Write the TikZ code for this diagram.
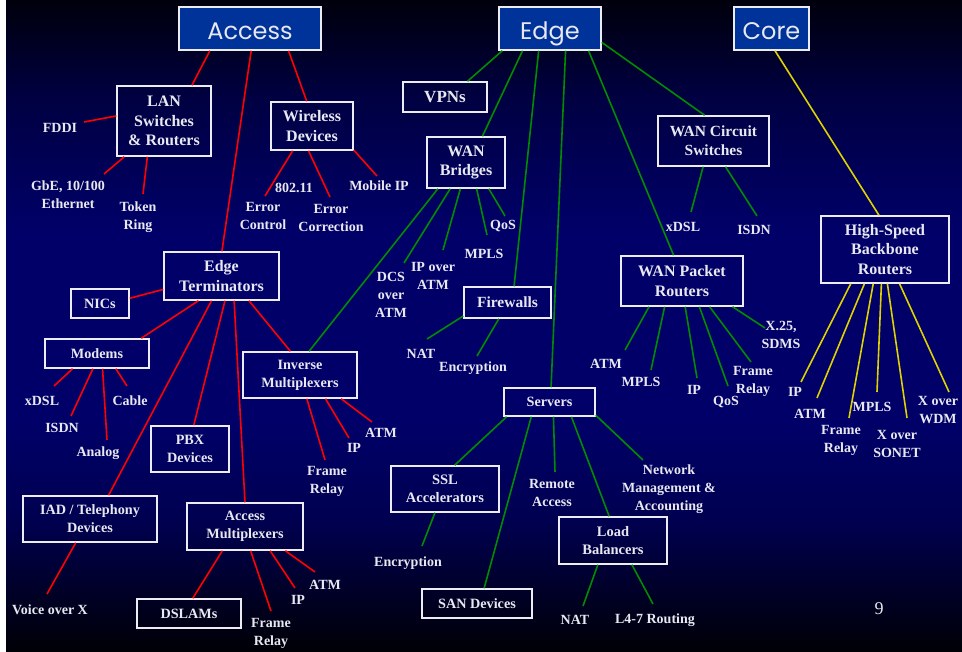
\documentclass[tikz,border=0pt]{standalone}
\usepackage{fontspec}
\setmainfont{Liberation Serif}
\newfontfamily\titlefont{Poppins}
\usetikzlibrary{calc}

\definecolor{titlefill}{RGB}{0,51,153}
\definecolor{txt}{RGB}{232,232,240}
\definecolor{boxline}{RGB}{236,236,242}
\definecolor{lred}{RGB}{255,0,0}
\definecolor{lgreen}{RGB}{0,140,0}
\definecolor{lyellow}{RGB}{222,210,0}
\definecolor{bgA}{RGB}{0,0,6}
\definecolor{bgB}{RGB}{0,0,35}
\definecolor{bgC}{RGB}{0,0,80}
\definecolor{bgD}{RGB}{0,0,104}
\definecolor{bgE}{RGB}{0,0,66}
\definecolor{bgF}{RGB}{0,0,12}
\pgfdeclareverticalshading{slidebg}{100bp}{color(0bp)=(bgA); color(25bp)=(bgA); color(29bp)=(bgB); color(35bp)=(bgC); color(42.5bp)=(bgD); color(57.5bp)=(bgD); color(67.5bp)=(bgE); color(75bp)=(bgF); color(100bp)=(bgF)}

\tikzset{
  titlebox/.style={draw=boxline, line width=1.5pt, fill=titlefill, text=txt, inner sep=0pt,
    text height=22pt, text depth=0pt,
    font=\titlefont\fontsize{24}{28}\selectfont},
  catbox/.style={draw=boxline, line width=1.5pt, text=txt, align=center, inner sep=0pt,
    font=\bfseries\fontsize{16}{19.5}\selectfont},
  midbox/.style={catbox, font=\bfseries\fontsize{15.5}{19}\selectfont},
  smallbox/.style={catbox, font=\bfseries\fontsize{14.2}{18}\selectfont},
  leaf/.style={text=txt, align=center, inner sep=1pt,
    font=\bfseries\fontsize{14}{18}\selectfont},
  pagenum/.style={text=txt, inner sep=0pt, font=\fontsize{18}{20}\selectfont},
  acc/.style={draw=lred, line width=1.6pt},
  edg/.style={draw=lgreen, line width=1.6pt},
  cor/.style={draw=lyellow, line width=1.6pt},
}

\begin{document}
\begin{tikzpicture}[x=1pt,y=-1pt]
\useasboundingbox (0,0) rectangle (962,652);
\fill[white] (0,0) rectangle (962,652);
\shade[shading=slidebg] (6,0) rectangle (962,652);

% ---------- title boxes ----------
\node[titlebox, minimum width=142pt, minimum height=43pt] (access) at (250,28.5) {Access};
\node[titlebox, minimum width=102pt, minimum height=43pt] (edge) at (550,28.5) {Edge};
\node[titlebox, minimum width=75pt, minimum height=43pt] (core) at (771.5,28.5) {Core};

% ---------- category boxes ----------
\node[catbox, minimum width=94pt, minimum height=70pt] (lan) at (164,121) {LAN\\Switches\\\& Routers};
\node[catbox, minimum width=82pt, minimum height=48pt] (wireless) at (312,126) {Wireless\\Devices};
\node[catbox, font=\bfseries\fontsize{17}{20}\selectfont, minimum width=84pt, minimum height=30pt] (vpns) at (445,97) {VPNs};
\node[catbox, minimum width=78pt, minimum height=51pt] (wbr) at (466,162.5) {WAN\\Bridges};
\node[midbox, minimum width=111pt, minimum height=50pt] (wcs) at (713.5,141) {WAN Circuit\\Switches};
\node[midbox, minimum width=87pt, minimum height=31pt] (fw) at (507.5,302.5) {Firewalls};
\node[smallbox, minimum width=91pt, minimum height=28pt] (srv) at (549.5,402) {Servers};
\node[catbox, minimum width=122pt, minimum height=50pt] (wpr) at (682,281) {WAN Packet\\Routers};
\node[catbox, minimum width=128pt, minimum height=67pt] (hsbr) at (885,249.5) {High-Speed\\Backbone\\Routers};
\node[catbox, minimum width=115pt, minimum height=48pt] (et) at (221.5,276) {Edge\\Terminators};
\node[smallbox, minimum width=58pt, minimum height=29pt] (nics) at (100,303.5) {NICs};
\node[smallbox, minimum width=104pt, minimum height=29pt] (modems) at (97,353.5) {Modems};
\node[smallbox, minimum width=114pt, minimum height=46pt] (imux) at (300,375) {Inverse\\Multiplexers};
\node[smallbox, minimum width=78pt, minimum height=46pt] (pbx) at (190,449) {PBX\\Devices};
\node[smallbox, minimum width=134pt, minimum height=46pt] (iad) at (90,519) {IAD / Telephony\\Devices};
\node[smallbox, minimum width=116pt, minimum height=47pt] (amux) at (245,526.5) {Access\\Multiplexers};
\node[smallbox, minimum width=104pt, minimum height=29pt] (dslams) at (189,613.5) {DSLAMs};
\node[smallbox, font=\bfseries\fontsize{14.5}{18}\selectfont, minimum width=108pt, minimum height=46pt] (ssl) at (445,489) {SSL\\Accelerators};
\node[smallbox, minimum width=110pt, minimum height=29pt] (san) at (477,603.5) {SAN Devices};
\node[smallbox, font=\bfseries\fontsize{14.5}{18}\selectfont, minimum width=108pt, minimum height=47pt] (lb) at (613,540.5) {Load\\Balancers};

% ---------- leaf labels ----------
% Access
\node[leaf] (fddi) at (60,128) {FDDI};
\node[leaf] (gbe) at (68,195) {GbE, 10/100\\Ethernet};
\node[leaf] (token) at (138,217) {Token\\Ring};
\node[leaf] (w80211) at (294,188) {802.11};
\node[leaf] (errctl) at (263,216) {Error\\Control};
\node[leaf] (errcor) at (331,218) {Error\\Correction};
\node[leaf] (mobip) at (379,186) {Mobile IP};
\node[leaf] (mxdsl) at (42,401) {xDSL};
\node[leaf] (misdn) at (62,428) {ISDN};
\node[leaf] (manalog) at (98,453) {Analog};
\node[leaf] (mcable) at (130,401) {Cable};
\node[leaf] (ifr) at (327,481) {Frame\\Relay};
\node[leaf] (iip) at (354,448) {IP};
\node[leaf] (iatm) at (381,433) {ATM};
\node[leaf] (voice) at (50,610) {Voice over X};
\node[leaf] (afr) at (271,633) {Frame\\Relay};
\node[leaf] (aip) at (298,600) {IP};
\node[leaf] (aatm) at (325,585) {ATM};
% Edge
\node[leaf] (wxdsl) at (683,227) {xDSL};
\node[leaf] (wisdn) at (754,230) {ISDN};
\node[leaf] (dcs) at (391,295) {DCS\\over\\ATM};
\node[leaf] (ipatm) at (433,276) {IP over\\ATM};
\node[leaf] (bmpls) at (484,254) {MPLS};
\node[leaf] (bqos) at (503,226) {QoS};
\node[leaf] (fnat) at (421,354) {NAT};
\node[leaf] (fenc) at (473,368) {Encryption};
\node[leaf] (patm) at (606,364) {ATM};
\node[leaf] (pmpls) at (641,382) {MPLS};
\node[leaf] (pip) at (694,390) {IP};
\node[leaf] (pqos) at (726,402) {QoS};
\node[leaf] (pfr) at (753,381) {Frame\\Relay};
\node[leaf] (px25) at (781,335) {X.25,\\SDMS};
\node[leaf] (senc) at (408,563) {Encryption};
\node[leaf] (remote) at (552,493) {Remote\\Access};
\node[leaf] (netm) at (669,489) {Network\\Management \&\\Accounting};
\node[leaf] (lnat) at (575,620) {NAT};
\node[leaf] (l47) at (655,620) {L4-7 Routing};
% Core
\node[leaf] (hip) at (795,392) {IP};
\node[leaf] (hatm) at (810,414) {ATM};
\node[leaf] (hfr) at (841,440) {Frame\\Relay};
\node[leaf] (hmpls) at (872,407) {MPLS};
\node[leaf] (hsonet) at (897,444) {X over\\SONET};
\node[leaf] (hwdm) at (938,410) {X over\\WDM};

\node[pagenum] (pnum) at (879,609) {9};

% ---------- connector end points near labels ----------
\coordinate (fddiE) at (84,122);
\coordinate (gbeE) at (104,174);
\coordinate (tokenE) at (143,194);
\coordinate (errctlE) at (265,196);
\coordinate (errcorE) at (330,197);
\coordinate (mobipE) at (377,176);
\coordinate (mxdslE) at (54,386);
\coordinate (misdnE) at (71,416);
\coordinate (manalogE) at (107,440);
\coordinate (mcableE) at (127,386);
\coordinate (ifrE) at (325,460);
\coordinate (iipE) at (349,438);
\coordinate (iatmE) at (372,422);
\coordinate (voiceE) at (47,594);
\coordinate (afrE) at (271,611);
\coordinate (aipE) at (295,588);
\coordinate (aatmE) at (315,572);
\coordinate (wxdslE) at (691,212);
\coordinate (wisdnE) at (757,216);
\coordinate (dcsE) at (404,263);
\coordinate (ipatmE) at (443,250);
\coordinate (bmplsE) at (487,235);
\coordinate (bqosE) at (505,216);
\coordinate (fnatE) at (427,339);
\coordinate (fencE) at (477,356);
\coordinate (patmE) at (625,350);
\coordinate (pmplsE) at (651,370);
\coordinate (pipE) at (697,378);
\coordinate (pqosE) at (728,386);
\coordinate (pfrE) at (751,362);
\coordinate (px25E) at (765,328);
\coordinate (sencE) at (422,546);
\coordinate (remoteE) at (555,472);
\coordinate (netmE) at (643,460);
\coordinate (lnatE) at (583,606);
\coordinate (l47E) at (653,604);
\coordinate (hipE) at (801,382);
\coordinate (hatmE) at (817,398);
\coordinate (hfrE) at (849,418);
\coordinate (hmplsE) at (877,392);
\coordinate (hsonetE) at (907,418);
\coordinate (hwdmE) at (949,392);

% ---------- Access connectors (red) ----------
\draw[acc] (access.209) -- (lan.52);
\draw[acc] (access.273) -- (et.89);
\draw[acc] (access.330) -- (wireless.102);
\draw[acc] (lan.174) -- (fddiE);
\draw[acc] (lan.222) -- (gbeE);
\draw[acc] (lan.245) -- (tokenE);
\draw[acc] (wireless.232) -- (errctlE);
\draw[acc] (wireless.262) -- (errcorE);
\draw[acc] (wireless.330) -- (mobipE);
\draw[acc] (et.193) -- (nics.10);
\draw[acc] (et.227) -- (modems.19);
\draw[acc] (et.248) -- (iad.52);
\draw[acc] (et.278) -- (pbx.81);
\draw[acc] (et.297) -- (amux.90);
\draw[acc] (et.318) -- (imux.112);
\draw[acc] (modems.212) -- (mxdslE);
\draw[acc] (modems.255) -- (misdnE);
\draw[acc] (modems.290) -- (manalogE);
\draw[acc] (modems.321) -- (mcableE);
\draw[acc] (imux.286) -- (ifrE);
\draw[acc] (imux.317) -- (iipE);
\draw[acc] (imux.330) -- (iatmE);
\draw[acc] (iad.239) -- (voiceE);
\draw[acc] (amux.227) -- (dslams.76);
\draw[acc] (amux.283) -- (afrE);
\draw[acc] (amux.316) -- (aipE);
\draw[acc] (amux.329) -- (aatmE);

% ---------- Edge connectors (green) ----------
\draw[edg] (edge.205) -- (vpns.35);
\draw[edg] (edge.219) -- (wbr.58);
\draw[edg] (edge.243) -- (fw.68);
\draw[edg] (edge.305) -- (srv.84);
\draw[edg] (edge.330) -- (wpr.108);
\draw[edg] (edge.345) -- (wcs.109);
\draw[edg] (wcs.248) -- (wxdslE);
\draw[edg] (wcs.295) -- (wisdnE);
\draw[edg] (wbr.223) -- (imux.69);
\draw[edg] (wbr.239) -- (dcsE);
\draw[edg] (wbr.258) -- (ipatmE);
\draw[edg] (wbr.292) -- (bmplsE);
\draw[edg] (wbr.311) -- (bqosE);
\draw[edg] (fw.197) -- (fnatE);
\draw[edg] (fw.242) -- (fencE);
\draw[edg] (wpr.218) -- (patmE);
\draw[edg] (wpr.236) -- (pmplsE);
\draw[edg] (wpr.277) -- (pipE);
\draw[edg] (wpr.304) -- (pqosE);
\draw[edg] (wpr.317) -- (pfrE);
\draw[edg] (wpr.333) -- (px25E);
\draw[edg] (srv.199) -- (ssl.68);
\draw[edg] (srv.219) -- (san.65);
\draw[edg] (srv.285) -- (remoteE);
\draw[edg] (srv.326) -- (lb.99);
\draw[edg] (srv.344) -- (netmE);
\draw[edg] (ssl.247) -- (sencE);
\draw[edg] (lb.238) -- (lnatE);
\draw[edg] (lb.308) -- (l47E);

% ---------- Core connectors (yellow) ----------
\draw[cor] (core.279) -- (hsbr.100);
\draw[cor] (hsbr.225) -- (hipE);
\draw[cor] (hsbr.239) -- (hatmE);
\draw[cor] (hsbr.251) -- (hfrE);
\draw[cor] (hsbr.264) -- (hmplsE);
\draw[cor] (hsbr.274) -- (hsonetE);
\draw[cor] (hsbr.293) -- (hwdmE);
\end{tikzpicture}
\end{document}
